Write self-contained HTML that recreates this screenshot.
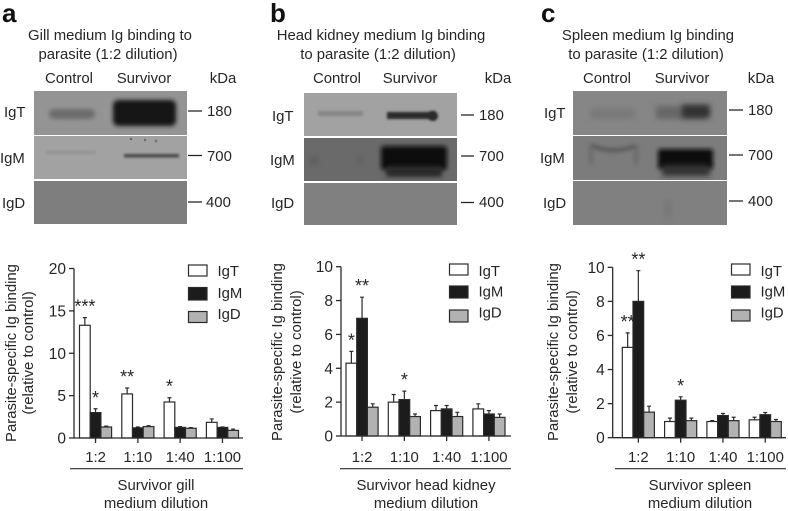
<!DOCTYPE html>
<html>
<head>
<meta charset="utf-8">
<style>
html,body{margin:0;padding:0;background:#fff;width:788px;height:511px;overflow:hidden}
svg{display:block}
#figure{filter:blur(0.35px)}
text{font-family:"Liberation Sans",sans-serif;font-size:14.9px;fill:#262626}
.m{text-anchor:middle}
.letter{font-weight:bold;font-size:26px;fill:#111}
</style>
</head>
<body>
<svg id="figure" xmlns="http://www.w3.org/2000/svg" width="788" height="511" viewBox="0 0 788 511">
<defs>
<filter id="b1" x="-50%" y="-100%" width="200%" height="300%"><feGaussianBlur stdDeviation="1.2"/></filter>
<filter id="b2" x="-50%" y="-100%" width="200%" height="300%"><feGaussianBlur stdDeviation="2"/></filter>
<filter id="b3" x="-50%" y="-100%" width="200%" height="300%"><feGaussianBlur stdDeviation="3"/></filter>
<filter id="b5" x="-50%" y="-100%" width="200%" height="300%"><feGaussianBlur stdDeviation="5"/></filter>
</defs>

<!-- Panel A -->
<g>
<text class="letter" x="2" y="22">a</text>
<text class="m" x="110" y="40">Gill medium Ig binding to</text>
<text class="m" x="108" y="59">parasite (1:2 dilution)</text>
<text class="m" x="69" y="83">Control</text>
<text class="m" x="144" y="83">Survivor</text>
<text class="m" x="223" y="83">kDa</text>
<text x="4" y="117">IgT</text>
<text x="0" y="163">IgM</text>
<text x="2" y="208">IgD</text>
<svg x="34" y="91" width="153" height="44" viewBox="34 91 153 44">
<rect x="34" y="91" width="153" height="44" fill="#949494"/>
<rect x="49" y="109" width="46" height="10" rx="5" fill="#6c6c6c" filter="url(#b2)"/>
<rect x="113" y="100" width="63" height="26" rx="5" fill="#131313" filter="url(#b2)"/>
</svg>
<svg x="34" y="136" width="153" height="43" viewBox="34 136 153 43">
<rect x="34" y="136" width="153" height="43" fill="#a2a2a2"/>
<rect x="46" y="151" width="50" height="3" fill="#939393" filter="url(#b1)"/>
<rect x="124" y="154" width="55" height="3.5" fill="#4a4a4a" filter="url(#b1)"/>
<circle cx="131" cy="139" r="1.2" fill="#666"/>
<circle cx="145" cy="140" r="1.2" fill="#666"/>
<circle cx="156" cy="141" r="1.5" fill="#777"/>
</svg>
<svg x="34" y="181" width="153" height="43" viewBox="34 181 153 43">
<rect x="34" y="181" width="153" height="43" fill="#7e7e7e"/>
</svg>
<path d="M188 111H202M188 155.500H202M188 202H202" stroke="#222" stroke-width="1.300"/>
<text x="207" y="116">180</text>
<text x="207" y="161">700</text>
<text x="206" y="207">400</text>
</g>

<!-- Panel B -->
<g>
<text class="letter" x="270" y="22">b</text>
<text class="m" x="381" y="40">Head kidney medium Ig binding</text>
<text class="m" x="378" y="59">to parasite (1:2 dilution)</text>
<text class="m" x="337" y="83">Control</text>
<text class="m" x="410" y="83">Survivor</text>
<text class="m" x="498" y="83">kDa</text>
<text x="272" y="121">IgT</text>
<text x="270" y="165">IgM</text>
<text x="271" y="208">IgD</text>
<svg x="304" y="93" width="153" height="43" viewBox="304 93 153 43">
<rect x="304" y="93" width="153" height="43" fill="#a2a2a2"/>
<rect x="318" y="111" width="45" height="5" fill="#858585" filter="url(#b1)"/>
<rect x="387" y="112" width="48" height="7" fill="#2c2c2c" filter="url(#b1)"/>
<circle cx="433" cy="116" r="5" fill="#2a2a2a" filter="url(#b1)"/>
</svg>
<svg x="304" y="138" width="153" height="43" viewBox="304 138 153 43">
<rect x="304" y="138" width="153" height="43" fill="#6a6a6a"/>
<rect x="381" y="146" width="66" height="24" rx="3" fill="#0c0c0c" filter="url(#b2)"/>
<rect x="386" y="166" width="56" height="11" fill="#2a2a2a" filter="url(#b2)"/>
<circle cx="314" cy="161" r="4" fill="#5a5a5a" filter="url(#b3)"/>
<circle cx="360" cy="161" r="3" fill="#5a5a5a" filter="url(#b3)"/>
</svg>
<svg x="304" y="183" width="153" height="42" viewBox="304 183 153 42">
<rect x="304" y="183" width="153" height="42" fill="#808080"/>
</svg>
<path d="M461 115H474M461 156H474M461 202.500H474" stroke="#222" stroke-width="1.300"/>
<text x="479" y="120">180</text>
<text x="479" y="161">700</text>
<text x="479" y="207">400</text>
</g>

<!-- Panel C -->
<g>
<text class="letter" x="541" y="22">c</text>
<text class="m" x="648" y="40">Spleen medium Ig binding</text>
<text class="m" x="646" y="59">to parasite (1:2 dilution)</text>
<text class="m" x="607" y="83">Control</text>
<text class="m" x="682" y="83">Survivor</text>
<text class="m" x="761" y="83">kDa</text>
<text x="544" y="118">IgT</text>
<text x="540" y="163">IgM</text>
<text x="543" y="208">IgD</text>
<svg x="573" y="91" width="154" height="44" viewBox="573 91 154 44">
<rect x="573" y="91" width="154" height="44" fill="#868686"/>
<rect x="590" y="108" width="45" height="11" fill="#797979" filter="url(#b3)"/>
<rect x="656" y="106" width="50" height="13" fill="#666" filter="url(#b3)"/>
<rect x="682" y="105" width="28" height="13" fill="#333" filter="url(#b3)"/>
</svg>
<svg x="573" y="136" width="154" height="44" viewBox="573 136 154 44">
<rect x="573" y="136" width="154" height="44" fill="#7c7c7c"/>
<path d="M591 145Q610 155 636 146" stroke="#444" stroke-width="2.500" fill="none" filter="url(#b2)"/>
<path d="M591 146V165M636 146V165" stroke="#666" stroke-width="3" fill="none" filter="url(#b2)"/>
<rect x="658" y="149" width="55" height="20" rx="2" fill="#101010" filter="url(#b2)"/>
<rect x="662" y="165" width="48" height="11" fill="#333" filter="url(#b3)"/>
</svg>
<svg x="573" y="181" width="154" height="44" viewBox="573 181 154 44">
<rect x="573" y="181" width="154" height="44" fill="#808080"/>
<rect x="664" y="200" width="8" height="18" fill="#777" filter="url(#b3)"/>
</svg>
<path d="M729 110H743M729 155H743M729 201H743" stroke="#222" stroke-width="1.300"/>
<text x="748" y="115">180</text>
<text x="748" y="160">700</text>
<text x="748" y="206">400</text>
</g>

<!-- Static chart titles and x captions -->
<text class="m" transform="translate(16,353) rotate(-90)">Parasite-specific Ig binding</text>
<text class="m" transform="translate(33,353) rotate(-90)">(relative to control)</text>
<text class="m" x="156" y="490">Survivor gill</text>
<text class="m" x="156" y="508">medium dilution</text>

<text class="m" transform="translate(282,352) rotate(-90)">Parasite-specific Ig binding</text>
<text class="m" transform="translate(301,352) rotate(-90)">(relative to control)</text>
<text class="m" x="426" y="490">Survivor head kidney</text>
<text class="m" x="426" y="508">medium dilution</text>

<text class="m" transform="translate(558,352) rotate(-90)">Parasite-specific Ig binding</text>
<text class="m" transform="translate(577,352) rotate(-90)">(relative to control)</text>
<text class="m" x="700" y="490">Survivor spleen</text>
<text class="m" x="700" y="508">medium dilution</text>
</svg>

<script>
// Shared categories and series
const dilutions = ['1:2', '1:10', '1:40', '1:100'];
const seriesNames = ['IgT', 'IgM', 'IgD'];
const seriesFills = ['#ffffff', '#1c1c1c', '#b2b2b2'];

// Chart A values
const ticksA = [0, 5, 10, 15, 20];
const igtA = [13.3, 5.2, 4.25, 1.85];
const igmA = [3.0, 1.2, 1.25, 1.25];
const igdA = [1.3, 1.35, 1.15, 0.9];
const igtTopA = [14.2, 5.9, 4.75, 2.25];
const igmTopA = [3.45, 1.3, 1.35, 1.3];
const igdTopA = [1.4, 1.45, 1.22, 1.05];
const starsIgtA = ['***', '**', '*', ''];
const starsIgmA = ['*', '', '', ''];

// Chart B values
const ticksB = [0, 2, 4, 6, 8, 10];
const igtB = [4.3, 2.0, 1.5, 1.6];
const igmB = [6.95, 2.15, 1.6, 1.3];
const igdB = [1.7, 1.15, 1.15, 1.1];
const igtTopB = [5.0, 2.45, 1.8, 1.9];
const igmTopB = [8.2, 2.65, 1.8, 1.5];
const igdTopB = [1.9, 1.3, 1.4, 1.3];
const starsIgtB = ['*', '', '', ''];
const starsIgmB = ['**', '*', '', ''];

// Chart C values
const ticksC = [0, 2, 4, 6, 8, 10];
const igtC = [5.3, 0.95, 0.95, 1.05];
const igmC = [8.0, 2.2, 1.3, 1.35];
const igdC = [1.5, 1.0, 1.0, 0.95];
const igtTopC = [6.15, 1.15, 1.0, 1.2];
const igmTopC = [9.8, 2.4, 1.42, 1.48];
const igdTopC = [1.85, 1.15, 1.2, 1.07];
const starsIgtC = ['**', '', '', ''];
const starsIgmC = ['**', '*', '', ''];

const NS = 'http://www.w3.org/2000/svg';
const figure = document.getElementById('figure');
const BAR_W = 10.7;
const GROUP_STEP = 42.3;
const INK = '#2b2b2b';

function shape(parent, tag, props, text) {
  const node = document.createElementNS(NS, tag);
  for (const key in props) node.setAttribute(key, props[key]);
  if (text !== undefined) node.textContent = text;
  parent.appendChild(node);
  return node;
}

function drawChart(id, o) {
  const g = shape(figure, 'g', {});
  
  

  const yMax = o.ticks[o.ticks.length - 1];
  const yScale = v => o.y0 - (v / yMax) * (o.y0 - o.yTop);
  const barX = (group, series) => o.barStart + group * GROUP_STEP + series * BAR_W;
  const groupCenter = group => barX(group, 1) + BAR_W / 2;

  // bars and error bars
  o.series.forEach((values, s) => {
    values.forEach((value, i) => {
      const cx = barX(i, s) + BAR_W / 2;
      const err = shape(g, 'path', {
        d: 'M' + cx + ' ' + yScale(value) + 'V' + yScale(o.tops[s][i]) + 'M' + (cx - 2) + ' ' + yScale(o.tops[s][i]) + 'H' + (cx + 2),
        stroke: INK, 'stroke-width': 1.2, fill: 'none'
      });
      
      

      const bar = shape(g, 'rect', {
        x: barX(i, s), y: yScale(value), width: BAR_W, height: o.y0 - yScale(value),
        fill: seriesFills[s], stroke: INK, 'stroke-width': 1.2
      });
      
      
    });
  });

  // significance stars
  o.stars.forEach((labels, s) => {
    labels.forEach((label, i) => {
      if (!label) return;
      const star = shape(g, 'text', {
        class: 'm', x: barX(i, s) + BAR_W / 2, y: yScale(o.tops[s][i]) - 5,
        style: 'font-size:18px'
      }, label);
      
      
    });
  });

  // axes
  const yAxis = shape(g, 'line', { x1: o.axisX, x2: o.axisX, y1: o.yTop, y2: o.y0, stroke: INK, 'stroke-width': 1.3 });
  
  

  const xAxis = shape(g, 'line', { x1: o.axisX, x2: o.axisEnd, y1: o.y0, y2: o.y0, stroke: INK, 'stroke-width': 1.3 });
  
  

  o.ticks.forEach(t => {
    const tick = shape(g, 'line', { x1: o.axisX - 5, x2: o.axisX, y1: yScale(t), y2: yScale(t), stroke: INK, 'stroke-width': 1.3 });
    
    

    const label = shape(g, 'text', { x: o.axisX - 8, y: yScale(t) + 5.5, 'text-anchor': 'end', style: 'font-size:15.5px' }, t);
    
    
  });

  dilutions.forEach((d, i) => {
    const tick = shape(g, 'line', { x1: groupCenter(i), x2: groupCenter(i), y1: o.y0, y2: o.y0 + 5, stroke: INK, 'stroke-width': 1.3 });
    
    

    const label = shape(g, 'text', { class: 'm', x: groupCenter(i), y: 462, style: 'font-size:14.9px' }, d);
    
    
  });

  const rule = shape(g, 'line', { x1: o.ruleStart, x2: o.axisEnd, y1: 468.7, y2: 468.7, stroke: INK, 'stroke-width': 1.2 });
  
  

  // legend
  seriesNames.forEach((name, s) => {
    const swatch = shape(g, 'rect', {
      x: o.legendX, y: o.legendY[s], width: 18.5, height: o.legendH[s],
      fill: seriesFills[s], stroke: INK, 'stroke-width': 1.2
    });
    
    

    const label = shape(g, 'text', { x: o.legendX + 29, y: o.legendText[s], style: 'font-size:14.9px' }, name);
    
    
  });
}

drawChart('a', {
  ticks: ticksA, series: [igtA, igmA, igdA], tops: [igtTopA, igmTopA, igdTopA], stars: [starsIgtA, starsIgmA, []],
  axisX: 74, axisEnd: 243, y0: 438, yTop: 268.5, barStart: 79.5, ruleStart: 70,
  legendX: 188.5, legendY: [265, 287.5, 311.5], legendH: [11, 12.5, 11], legendText: [276, 298, 319]
});
drawChart('b', {
  ticks: ticksB, series: [igtB, igmB, igdB], tops: [igtTopB, igmTopB, igdTopB], stars: [starsIgtB, starsIgmB, []],
  axisX: 341, axisEnd: 511, y0: 436, yTop: 266.7, barStart: 346, ruleStart: 340,
  legendX: 449.5, legendY: [264, 286, 310], legendH: [11, 12, 12], legendText: [276, 296.5, 317.5]
});
drawChart('c', {
  ticks: ticksC, series: [igtC, igmC, igdC], tops: [igtTopC, igmTopC, igdTopC], stars: [starsIgtC, starsIgmC, []],
  axisX: 612.7, axisEnd: 786, y0: 437.7, yTop: 267.3, barStart: 622.3, ruleStart: 615,
  legendX: 731.5, legendY: [264, 286, 310], legendH: [11, 12, 11], legendText: [276, 296.5, 317.5]
});
</script>
</body>
</html>
